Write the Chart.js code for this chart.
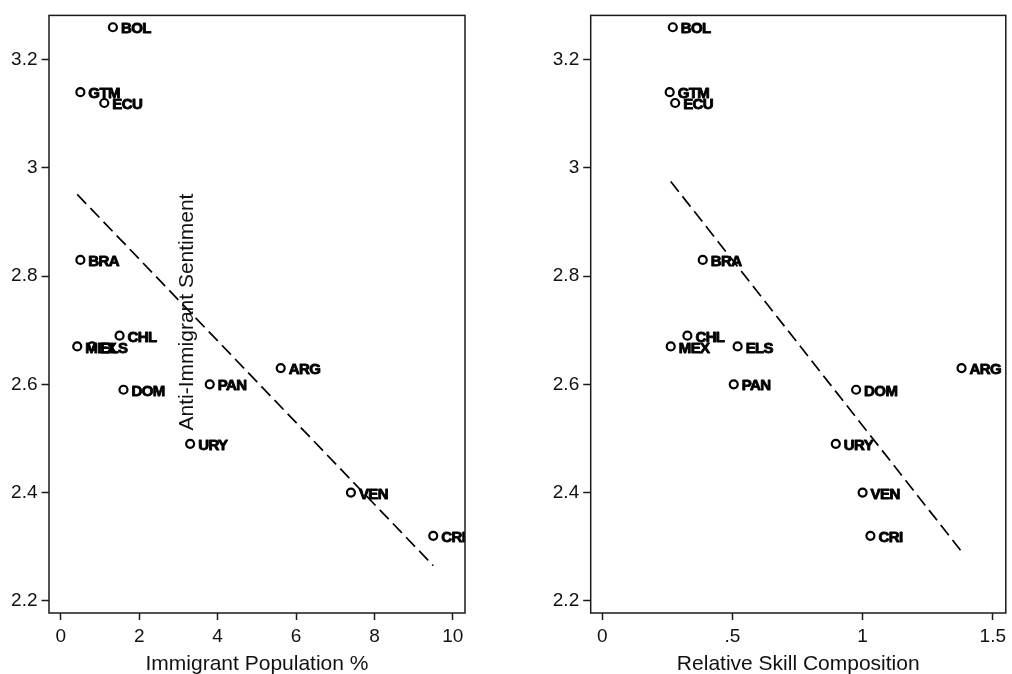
<!DOCTYPE html>
<html><head><meta charset="utf-8">
<script src="https://cdn.jsdelivr.net/npm/chart.js@4"></script>
<style>html,body{margin:0;padding:0;background:#fff;overflow:hidden}
#wrap{position:relative;width:1012px;height:674px;background:#fff}
canvas{position:absolute;top:0}
</style></head><body>
<div id="wrap"><canvas id="c1" width="506" height="674" style="left:0"></canvas><canvas id="c2" width="506" height="674" style="left:506px"></canvas></div>
<script>
const countries = ['BOL','GTM','ECU','BRA','CHL','MEX','ELS','DOM','PAN','ARG','URY','VEN','CRI'];
const sentiment = [3.26,3.14,3.12,2.83,2.69,2.67,2.67,2.59,2.60,2.63,2.49,2.40,2.32];
const immigrantPct = [1.33,0.50,1.11,0.50,1.50,0.42,0.80,1.60,3.80,5.61,3.30,7.40,9.50];
const skillComp = [0.271,0.259,0.280,0.386,0.327,0.263,0.520,0.975,0.505,1.380,0.897,1.000,1.030];
const fitPctX = [0.42, 9.50];
const fitPctY = [2.951, 2.265];
const fitSkillX = [0.263, 1.380];
const fitSkillY = [2.975, 2.291];
const yTicks = [2.2,2.4,2.6,2.8,3.0,3.2];
const yTickLabels = ['2.2','2.4','2.6','2.8','3','3.2'];
const pctTicks = [0,2,4,6,8,10];
const pctTickLabels = ['0','2','4','6','8','10'];
const skillTicks = [0,0.5,1,1.5];
const skillTickLabels = ['0','.5','1','1.5'];

const FONT = '"Liberation Sans", Arial, Helvetica, sans-serif';

const labelPlugin = {
  id:'pointLabels',
  afterDatasetsDraw(chart){
    const ctx=chart.ctx, a=chart.chartArea;
    const meta=chart.getDatasetMeta(0);
    ctx.save();
    ctx.beginPath(); ctx.rect(a.left,a.top,a.right-a.left,a.bottom-a.top); ctx.clip();
    ctx.font='bold 15px '+FONT; ctx.fillStyle='#000'; ctx.strokeStyle='#000'; ctx.lineWidth=0.9;
    ctx.lineJoin='round';
    try { ctx.letterSpacing='-0.6px'; } catch(e) {}
    ctx.textBaseline='middle'; ctx.textAlign='left';
    meta.data.forEach((el,i)=>{ ctx.fillText(countries[i], el.x+8, el.y+2); ctx.strokeText(countries[i], el.x+8, el.y+2); });
    ctx.restore();
  }
};
const framePlugin = {
  id:'frame',
  afterDraw(chart){
    const ctx=chart.ctx, a=chart.chartArea;
    ctx.save(); ctx.strokeStyle='#1a1a1a'; ctx.lineWidth=1.5;
    ctx.strokeRect(a.left,a.top,a.right-a.left,a.bottom-a.top);
    ctx.restore();
  }
};
const yTitlePlugin = {
  id:'yTitle',
  afterDraw(chart){
    const ctx=chart.ctx;
    ctx.save(); ctx.translate(187,312); ctx.rotate(-Math.PI/2);
    ctx.font='21px '+FONT; ctx.fillStyle='#111'; ctx.textAlign='center'; ctx.textBaseline='middle';
    ctx.fillText('Anti-Immigrant Sentiment',0,0);
    ctx.restore();
  }
};

function makeChart(id, xs, fitX, fitY, xMin, xMax, xTickVals, xTickLbls, xTitle, yWidth, padRight, extraPlugins){
  const pts = xs.map((x,i)=>({x:x, y:sentiment[i]}));
  const fit = fitX.map((x,i)=>({x:x, y:fitY[i]}));
  return new Chart(document.getElementById(id), {
    type:'scatter',
    data:{datasets:[
      {data:pts, pointStyle:'circle', pointRadius:4, pointHoverRadius:4, borderColor:'#000', backgroundColor:'rgba(0,0,0,0)', pointBorderWidth:2.2},
      {type:'line', data:fit, showLine:true, borderColor:'#000', borderWidth:1.7, borderDash:[13,6], pointRadius:0, fill:false}
    ]},
    options:{
      responsive:false, animation:false, devicePixelRatio:1,
      layout:{padding:{left:0,right:padRight,top:13,bottom:0}},
      plugins:{legend:{display:false}, tooltip:{enabled:false}},
      scales:{
        x:{type:'linear', min:xMin, max:xMax,
          afterFit(s){ s.height=61; },
          afterBuildTicks(s){ s.ticks = xTickVals.map(v=>({value:v})); },
          ticks:{callback:(v,i)=>xTickLbls[i], font:{size:19, family:FONT}, color:'#111', padding:5, maxRotation:0, autoSkip:false},
          grid:{drawOnChartArea:false, drawTicks:true, tickLength:7, tickColor:'#1a1a1a', tickWidth:1.5},
          border:{display:false},
          title:{display:true, text:xTitle, font:{size:21, family:FONT, lineHeight:0.95}, color:'#111', padding:0}
        },
        y:{type:'linear', min:2.1774, max:3.2819,
          afterFit(s){ s.width=yWidth; },
          afterBuildTicks(s){ s.ticks = yTicks.map(v=>({value:v})); },
          ticks:{callback:(v,i)=>yTickLabels[i], font:{size:19, family:FONT}, color:'#111', padding:4},
          grid:{drawOnChartArea:false, drawTicks:true, tickLength:7.5, tickColor:'#1a1a1a', tickWidth:1.5},
          border:{display:false}
        }
      }
    },
    plugins:[labelPlugin, framePlugin].concat(extraPlugins)
  });
}

makeChart('c1', immigrantPct, fitPctX, fitPctY, -0.3, 10.31, pctTicks, pctTickLabels, 'Immigrant Population %', 49, 41, [yTitlePlugin]);
makeChart('c2', skillComp, fitSkillX, fitSkillY, -0.0444, 1.55, skillTicks, skillTickLabels, 'Relative Skill Composition', 84.7, 5.3, []);
</script></body></html>
